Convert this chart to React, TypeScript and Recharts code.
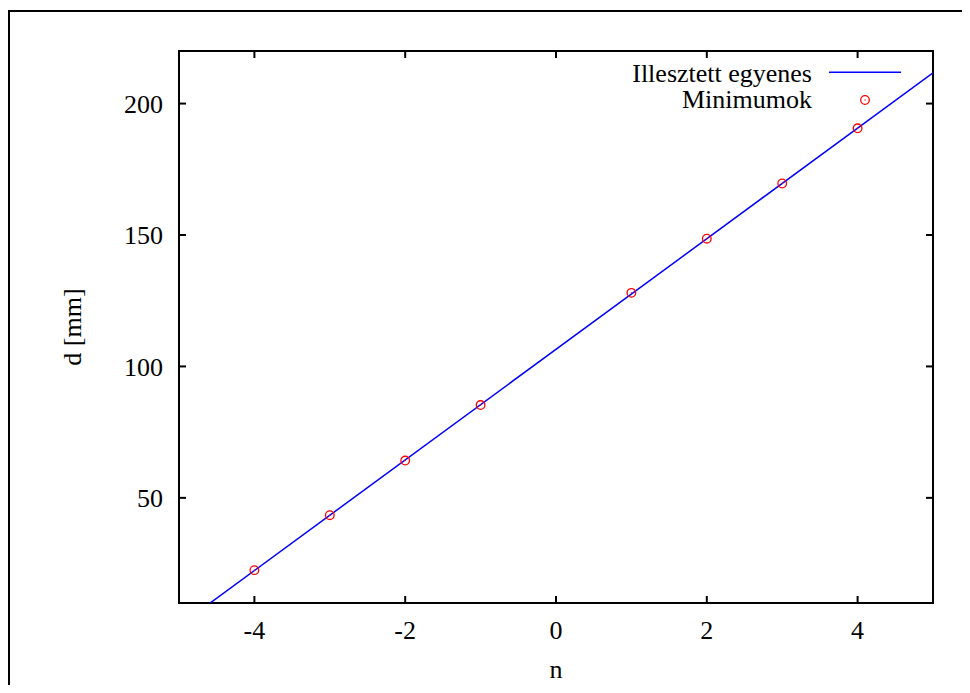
import React from 'react';
import { ComposedChart, Line, Scatter, XAxis, YAxis, ReferenceArea } from 'recharts';

// measured minima positions d(n)
const nValues = [-4, -3, -2, -1, 1, 2, 3, 4];
const dValues = [22.5, 43.4, 64.2, 85.3, 128.0, 148.6, 169.6, 190.6];

const xTicks = [-4, -2, 0, 2, 4];
const yTicks = [50, 100, 150, 200];
const xDomain = [-5, 5];
const yDomain = [10, 220];

// least squares fit: d = a + b * n
const fitIntercept = 106.5;
const fitSlope = 21.04;

const legendLabels = ['Illesztett egyenes', 'Minimumok'];

const minima = nValues.map((n, i) => ({ n, d: dValues[i] }));
const fitLine = xDomain.map((n) => ({ n, d: fitIntercept + fitSlope * n }));

const FONT = "'Liberation Serif', 'DejaVu Serif', serif";
const W = 960;
const H = 677;

const tickStyle = { fill: '#000', fontSize: 26, fontFamily: FONT };
const tickLineStyle = { stroke: '#000', strokeWidth: 2 };

const Ring = (props: any) => (
  <g>
    <circle cx={props.cx} cy={props.cy} r={4.3} fill="none" stroke="#ff0000" strokeWidth={1.3} />
    <circle cx={props.cx} cy={props.cy} r={0.7} fill="#ff0000" />
  </g>
);

export default function App() {
  return (
    <div style={{ position: 'relative', width: W, height: H, overflow: 'hidden', background: '#fff' }}>
      <div
        style={{
          position: 'absolute',
          left: 0,
          top: 2,
          width: W + 20,
          height: H + 20,
          borderTop: '2px solid #000',
          borderLeft: '2px solid #000',
        }}
      />
      <div style={{ position: 'absolute', left: 0, top: 0 }}>
        <ComposedChart width={W} height={H} margin={{ top: 42, right: 34, bottom: 0, left: 0 }}>
          <XAxis
            dataKey="n"
            type="number"
            domain={xDomain}
            ticks={xTicks}
            allowDataOverflow
            height={82}
            axisLine={false}
            tickLine={tickLineStyle}
            tickSize={-7}
            tickMargin={25}
            tick={tickStyle}
            label={{ value: 'n', position: 'insideBottom', offset: 7, fill: '#000', fontSize: 26, fontFamily: FONT }}
          />
          <XAxis
            xAxisId="top"
            orientation="top"
            dataKey="n"
            type="number"
            domain={xDomain}
            ticks={xTicks}
            allowDataOverflow
            height={1}
            axisLine={false}
            tickLine={tickLineStyle}
            tickSize={-7}
            tickFormatter={() => ''}
          />
          <YAxis
            type="number"
            domain={yDomain}
            ticks={yTicks}
            allowDataOverflow
            width={171}
            axisLine={false}
            tickLine={tickLineStyle}
            tickSize={-7}
            tickMargin={23}
            tick={tickStyle}
            label={{ value: 'd [mm]', position: 'center', angle: -90, dx: -21.5, fill: '#000', fontSize: 26, fontFamily: FONT }}
          />
          <YAxis
            yAxisId="right"
            orientation="right"
            type="number"
            domain={yDomain}
            ticks={yTicks}
            allowDataOverflow
            width={1}
            axisLine={false}
            tickLine={tickLineStyle}
            tickSize={-7}
            tickFormatter={() => ''}
          />
          <Line
            data={fitLine}
            dataKey="d"
            type="linear"
            stroke="#0000ff"
            strokeWidth={1.5}
            dot={false}
            activeDot={false}
            isAnimationActive={false}
          />
          <Scatter data={minima} dataKey="d" shape={Ring} isAnimationActive={false} />
          <ReferenceArea
            x1={xDomain[0]}
            x2={xDomain[1]}
            y1={yDomain[0]}
            y2={yDomain[1]}
            fill="none"
            fillOpacity={0}
            stroke="#000"
            strokeWidth={2}
            ifOverflow="visible"
          />
        </ComposedChart>
      </div>
      <svg
        width={W}
        height={H}
        style={{ position: 'absolute', left: 0, top: 0, pointerEvents: 'none' }}
        fontFamily={FONT}
        fontSize={26}
      >
        <text x={804} y={73.7} textAnchor="end" fill="#000">
          {legendLabels[0]}
        </text>
        <line x1={821} x2={893} y1={64.3} y2={64.3} stroke="#0000ff" strokeWidth={1.5} />
        <text x={804} y={100.3} textAnchor="end" fill="#000">
          {legendLabels[1]}
        </text>
        <Ring cx={857} cy={92} />
      </svg>
    </div>
  );
}
